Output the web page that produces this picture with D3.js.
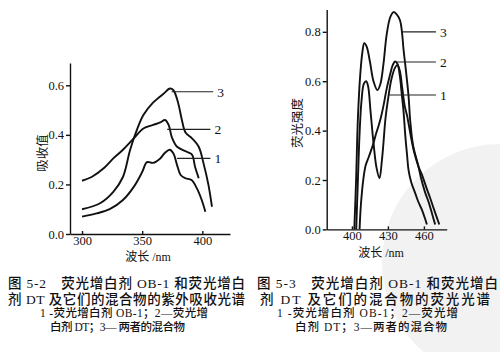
<!doctype html>
<html lang="en">
<head>
  <meta charset="utf-8">
  <title>荧光增白剂光谱</title>
  <style>
    body { margin: 0; background: #fff; }
    svg { display: block; }
    text { font-family: 'Liberation Serif', 'Noto Sans CJK SC', serif; fill: #111; }
    .axis path, .axis line { stroke: #111; stroke-width: 1.4; }
    .axis text { font-size: 12.5px; }
    .curve { fill: none; stroke: #111; stroke-width: 1.9; }
    .leader { stroke: #222; stroke-width: 1.1; }
  </style>
</head>
<body>
<script src="https://cdn.jsdelivr.net/npm/d3@7"></script>
<script>
// Fig 5-2: UV absorption spectra (wavelength nm, absorbance)
var absCurve1 = [[300,0.07],[312,0.083],[323,0.10],[334,0.137],[343,0.19],[350,0.25],[354,0.29],[359,0.287],[365,0.305],[369,0.328],[373,0.34],[376,0.325],[379,0.278],[382,0.238],[386,0.225],[391,0.218],[395.5,0.184],[399.5,0.137],[402.5,0.09]];
var absCurve2 = [[300,0.215],[308,0.23],[318,0.265],[326,0.305],[334,0.34],[343,0.386],[351,0.426],[359,0.44],[365,0.45],[369,0.46],[372,0.44],[374.7,0.39],[379,0.352],[387,0.332],[391.4,0.32],[394,0.27],[397,0.225]];
var absCurve3 = [[300,0.10],[315,0.124],[326,0.17],[334,0.23],[340,0.34],[345.6,0.42],[351,0.48],[359,0.53],[368,0.567],[373,0.587],[376,0.58],[380,0.527],[383,0.46],[386,0.41],[391.4,0.386],[397,0.352],[401,0.285],[405,0.2],[408,0.11]];
var absTicksX = [300, 350, 400];
var absTicksY = [0, 0.2, 0.4, 0.6];
// leader lines: [label, x from, x to, y]
var absLeaders = [["3",374.5,409,0.574],["2",370.8,406.7,0.422],["1",379,406.7,0.305]];

// Fig 5-3: fluorescence spectra (wavelength nm, intensity)
var fluCurve1 = [[403.6,0.0],[405,0.2],[406.5,0.4],[408,0.52],[410,0.59],[411.9,0.60],[413.5,0.58],[415.5,0.48],[418,0.35],[420.5,0.25],[423,0.207],[425,0.28],[426.3,0.35],[428,0.45],[430.5,0.54],[433,0.61],[436,0.655],[438,0.666],[440,0.64],[442,0.57],[444,0.50],[446,0.46],[449,0.38],[452,0.31],[455.5,0.254],[458.5,0.22],[462,0.17],[465,0.13],[468.5,0.08],[472.8,0.02]];
var fluCurve2 = [[406.4,0.0],[407.5,0.1],[409.7,0.21],[411.5,0.26],[413.8,0.29],[416,0.32],[418,0.35],[420,0.385],[422,0.416],[424,0.45],[426.3,0.50],[429,0.57],[432,0.63],[434,0.665],[436,0.68],[438,0.67],[440,0.62],[441.5,0.55],[443,0.48],[444.5,0.38],[446,0.30],[447.2,0.24],[449.5,0.19],[452.8,0.146],[455.5,0.11],[458.3,0.08],[460.5,0.05],[462.5,0.02]];
var fluCurve3 = [[402,0.0],[403.5,0.2],[405,0.45],[407,0.63],[408.8,0.72],[410.3,0.754],[412.3,0.74],[415,0.68],[418,0.60],[421.3,0.564],[423.8,0.59],[426.3,0.67],[429,0.79],[432,0.86],[434.7,0.88],[437.5,0.87],[440.2,0.845],[441.7,0.80],[443,0.73],[444.4,0.67],[447.2,0.54],[448.6,0.44],[451,0.34],[455.5,0.254],[457.5,0.21],[461,0.15],[464,0.11],[467,0.06],[469.4,0.02]];
var fluTicksX = [400, 430, 460];
var fluTicksY = [0, 0.2, 0.4, 0.6, 0.8];
var fluLeaders = [["3",441.7,470,0.80],["2",437.5,470,0.678],["1",430.5,470,0.544]];

var captionLeft = ["图 5-2　荧光增白剂 OB-1 和荧光增白", "剂 DT 及它们的混合物的紫外吸收光谱", "1 -荧光增白剂 OB-1；2—荧光增", "白剂 DT；3— 两者的混合物"];
var captionRight = ["图 5-3　荧光增白剂 OB-1 和荧光增白", "剂 DT 及它们的混合物的荧光光谱", "1 -荧光增白剂 OB-1；2—荧光增", "白剂 DT；3—两者的混合物"];

var svg = d3.select("body").append("svg")
    .attr("width", 500)
    .attr("height", 352);

// faint seal watermark of the scan
svg.append("circle")
    .attr("cx", 500).attr("cy", 262).attr("r", 118)
    .attr("fill", "#f2f2f2");

function drawChart(opt) {
  var x = d3.scaleLinear().domain(opt.xDomain).range(opt.xRange);
  var y = d3.scaleLinear().domain(opt.yDomain).range(opt.yRange);

  svg.append("g").attr("class", "axis")
      .attr("transform", "translate(0," + opt.yRange[0] + ")")
      .call(d3.axisBottom(x).tickValues(opt.ticksX).tickSizeInner(-3).tickSizeOuter(0).tickPadding(2));

  svg.append("g").attr("class", "axis")
      .attr("transform", "translate(" + opt.xRange[0] + ",0)")
      .call(d3.axisLeft(y).tickValues(opt.ticksY).tickFormat(d3.format(".1f")).tickSize(4).tickSizeOuter(0).tickPadding(2));

  var line = d3.line()
      .x(function(d) { return x(d[0]); })
      .y(function(d) { return y(d[1]); })
      .curve(d3.curveCatmullRom.alpha(0.5));

  opt.curves.forEach(function(c) {
    svg.append("path").attr("class", "curve").attr("d", line(c));
  });

  opt.leaders.forEach(function(l) {
    svg.append("line").attr("class", "leader")
        .attr("x1", x(l[1])).attr("x2", x(l[2]))
        .attr("y1", y(l[3])).attr("y2", y(l[3]));
    svg.append("text")
        .attr("x", x(l[2]) + 4).attr("y", y(l[3]) + 5)
        .style("font-size", "13.5px")
        .text(l[0]);
  });

  svg.append("text")
      .attr("transform", "translate(" + opt.yLabelPos[0] + "," + opt.yLabelPos[1] + ") rotate(-90)")
      .attr("text-anchor", "middle")
      .style("font-size", "12.5px")
      .text(opt.yLabel);

  svg.append("text")
      .attr("x", opt.xLabelPos[0]).attr("y", opt.xLabelPos[1])
      .attr("text-anchor", "middle")
      .style("font-size", "12px")
      .text("波长 /nm");
}

drawChart({
  xDomain: [290, 423], xRange: [70, 230],
  yDomain: [0, 0.69], yRange: [234, 63],
  ticksX: absTicksX, ticksY: absTicksY,
  curves: [absCurve1, absCurve2, absCurve3],
  leaders: absLeaders,
  yLabel: "吸收值", yLabelPos: [47, 153],
  xLabelPos: [148, 261]
});

drawChart({
  xDomain: [379, 479], xRange: [326.7, 446.7],
  yDomain: [0, 0.89], yRange: [229.4, 9.6],
  ticksX: fluTicksX, ticksY: fluTicksY,
  curves: [fluCurve1, fluCurve2, fluCurve3],
  leaders: fluLeaders,
  yLabel: "荧光强度", yLabelPos: [302, 123],
  xLabelPos: [381, 257]
});

// captions
function caption(lines, spans) {
  lines.forEach(function(t, i) {
    var s = spans[i];
    svg.append("text")
        .attr("x", s[0]).attr("y", s[2])
        .attr("textLength", s[1] - s[0])
        .attr("lengthAdjust", "spacing")
        .style("font-size", i < 2 ? "13.5px" : "11.5px")
        .style("font-weight", 500)
        .text(t);
  });
}
caption(captionLeft, [[8,245,288],[8,245,304],[40,208,317],[50,185,331]]);
caption(captionRight, [[257,498,288],[260,490,304],[277,458,317],[295,447,331]]);
</script>
</body>
</html>
